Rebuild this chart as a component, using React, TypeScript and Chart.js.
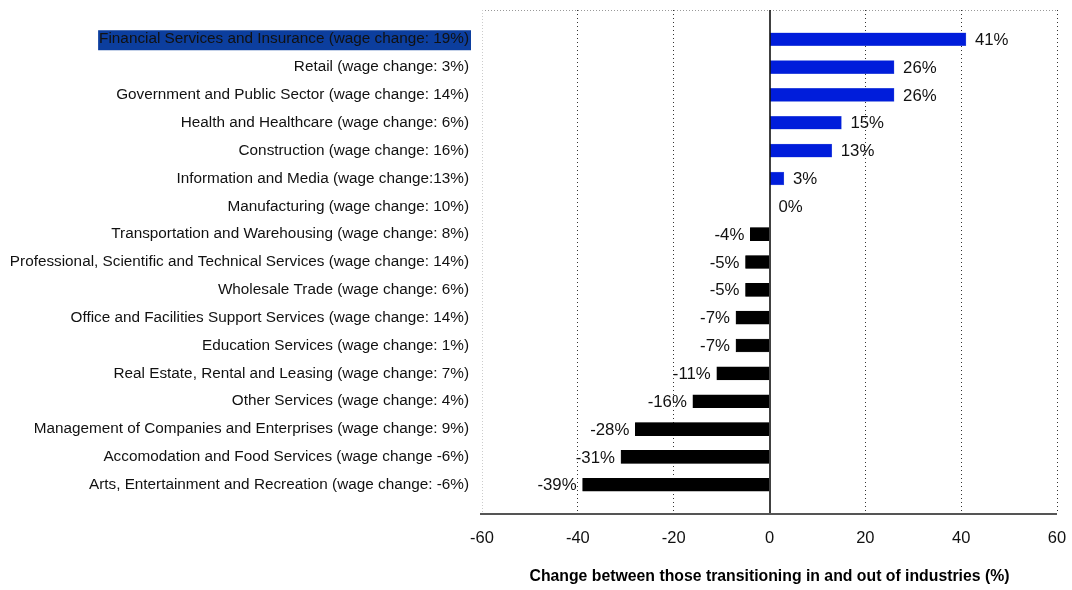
import React, { useEffect, useRef } from "react";
import { Chart, registerables } from "chart.js";

Chart.register(...registerables);

const categories = [
  "Financial Services and Insurance (wage change: 19%)",
  "Retail (wage change: 3%)",
  "Government and Public Sector (wage change: 14%)",
  "Health and Healthcare (wage change: 6%)",
  "Construction (wage change: 16%)",
  "Information and Media (wage change:13%)",
  "Manufacturing (wage change: 10%)",
  "Transportation and Warehousing (wage change: 8%)",
  "Professional, Scientific and Technical Services (wage change: 14%)",
  "Wholesale Trade (wage change: 6%)",
  "Office and Facilities Support Services (wage change: 14%)",
  "Education Services (wage change: 1%)",
  "Real Estate, Rental and Leasing (wage change: 7%)",
  "Other Services (wage change: 4%)",
  "Management of Companies and Enterprises (wage change: 9%)",
  "Accomodation and Food Services (wage change -6%)",
  "Arts, Entertainment and Recreation (wage change: -6%)",
];

const values = [41, 26, 26, 15, 13, 3, 0, -4, -5, -5, -7, -7, -11, -16, -28, -31, -39];

const xTicks = [-60, -40, -20, 0, 20, 40, 60];

const highlightedIndex = 0;

const FONT = "Liberation Sans, Arial, Helvetica, sans-serif";
const LABEL_SIZE = 15.3;
const VALUE_SIZE = 16.8;
const XTICK_SIZE = 16.5;

export default function App() {
  const ref = useRef<HTMLCanvasElement | null>(null);

  useEffect(() => {
    if (!ref.current) return;
    const decorPlugin = {
      id: "decor",
      beforeDraw(chart: any) {
        const { ctx, chartArea, scales } = chart;
        const y = scales.y;
        ctx.save();
        ctx.font = `${LABEL_SIZE}px ${FONT}`;
        const txt = categories[highlightedIndex];
        const w = ctx.measureText(txt).width;
        const yc = y.getPixelForValue(highlightedIndex);
        const right = chartArea.left - 13;
        ctx.fillStyle = "#0c3e9e";
        ctx.fillRect(right - w - 1, yc - 9, w + 3, 20);
        ctx.restore();
      },
      beforeDatasetsDraw(chart: any) {
        const { ctx, chartArea } = chart;
        const { left, right, top, bottom } = chartArea;
        ctx.save();
        ctx.lineWidth = 1;
        ctx.setLineDash([1, 2]);
        ctx.strokeStyle = "#999";
        ctx.beginPath();
        ctx.moveTo(left, top + 0.5);
        ctx.lineTo(right, top + 0.5);
        ctx.stroke();
        ctx.strokeStyle = "#ccc";
        ctx.beginPath();
        ctx.moveTo(left + 0.5, top);
        ctx.lineTo(left + 0.5, bottom);
        ctx.stroke();
        ctx.restore();
      },
      afterDatasetsDraw(chart: any) {
        const { ctx, chartArea, scales } = chart;
        const x = scales.x;
        const x0 = Math.round(x.getPixelForValue(0));
        ctx.save();
        ctx.strokeStyle = "#111";
        ctx.lineWidth = 1.6;
        ctx.beginPath();
        ctx.moveTo(x0, chartArea.top);
        ctx.lineTo(x0, chartArea.bottom);
        ctx.stroke();
        ctx.strokeStyle = "#555";
        ctx.lineWidth = 2;
        ctx.beginPath();
        ctx.moveTo(chartArea.left - 2, chartArea.bottom);
        ctx.lineTo(chartArea.right, chartArea.bottom);
        ctx.stroke();
        ctx.font = `${VALUE_SIZE}px ${FONT}`;
        ctx.fillStyle = "#111";
        ctx.textBaseline = "middle";
        const meta = chart.getDatasetMeta(0);
        meta.data.forEach((bar: any, i: number) => {
          const v = values[i];
          const label = `${v}%`;
          if (v >= 0) {
            ctx.textAlign = "left";
            ctx.fillText(label, bar.x + 9, bar.y + 1);
          } else {
            ctx.textAlign = "right";
            ctx.fillText(label, bar.x - 6, bar.y + 1);
          }
        });
        ctx.restore();
      },
    };

    const chart = new Chart(ref.current, {
      type: "bar",
      data: {
        datasets: [
          {
            data: values.map((v, i) => ({ x: v, y: i })),
            backgroundColor: values.map((v) => (v >= 0 ? "#001ddb" : "#000000")),
            borderColor: values.map((v) => (v >= 0 ? "#5a70e0" : "#000000")),
            borderWidth: 0.5,
            barThickness: 13,
          },
        ],
      },
      plugins: [decorPlugin],
      options: {
        indexAxis: "y",
        animation: false,
        responsive: false,
        maintainAspectRatio: false,
        layout: { padding: { top: 10, right: 15, left: 0, bottom: 0 } },
        plugins: {
          legend: { display: false },
          tooltip: { enabled: false },
        },
        scales: {
          x: {
            type: "linear",
            min: -60,
            max: 60,
            afterBuildTicks(scale: any) {
              scale.ticks = xTicks.map((v) => ({ value: v }));
            },
            afterFit(scale: any) {
              scale.height = 76;
              scale.paddingLeft = 0;
              scale.paddingRight = 0;
            },
            ticks: {
              color: "#111",
              font: { family: FONT, size: XTICK_SIZE },
              padding: 15,
              callback: (v: any) => String(v),
            },
            grid: {
              drawTicks: false,
              color: (c: any) =>
                c.tick && (c.tick.value === 0 || c.tick.value === -60) ? "rgba(0,0,0,0)" : "#333",
              lineWidth: 1,
            },
            border: { display: false, dash: [1, 3] },
            title: {
              display: true,
              text: "Change between those transitioning in and out of industries (%)",
              color: "#000",
              font: { family: FONT, size: 15.8, weight: "bold" },
              padding: { top: 4, bottom: 4 },
            },
          },
          y: {
            type: "linear",
            reverse: true,
            offset: false,
            min: -1.05,
            max: 17.05,
            afterBuildTicks(scale: any) {
              scale.ticks = categories.map((_, i) => ({ value: i }));
            },
            afterFit(scale: any) {
              scale.width = 482;
              scale.paddingTop = 0;
              scale.paddingBottom = 0;
            },
            ticks: {
              color: "#111",
              font: { family: FONT, size: LABEL_SIZE },
              padding: 13,
              autoSkip: false,
              callback: (v: any) => categories[v] ?? "",
            },
            grid: { display: false, drawTicks: false, offset: false },
            border: { display: false },
          },
        },
      },
    } as any);
    return () => chart.destroy();
  }, []);

  return (
    <div style={{ position: "absolute", left: 0, top: 0, width: 1072, height: 590 }}>
      <canvas ref={ref} width={1072} height={590} style={{ width: 1072, height: 590 }} />
    </div>
  );
}
